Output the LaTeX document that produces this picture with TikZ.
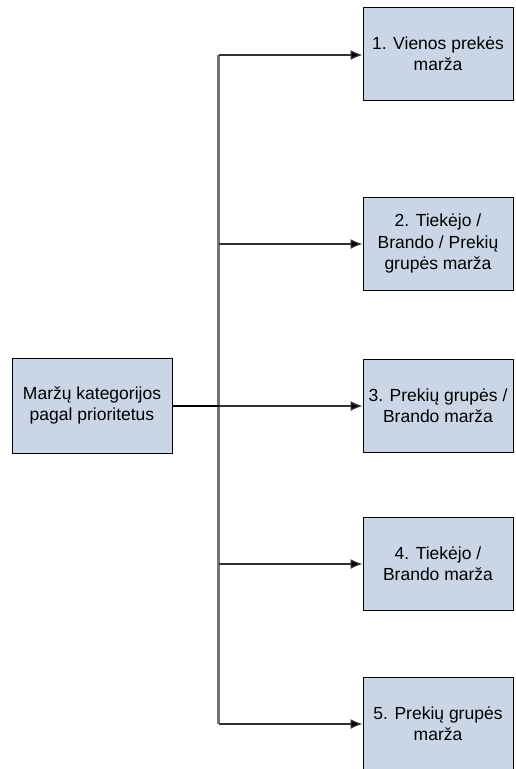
\documentclass[tikz,border=0pt]{standalone}
\usepackage{fontspec}
\setmainfont{Liberation Sans}
\usetikzlibrary{arrows.meta}
\definecolor{boxfill}{RGB}{202,214,230}
\definecolor{trunkgray}{RGB}{115,115,115}
\definecolor{branchgray}{RGB}{50,50,50}
\tikzset{
  catbox/.style={draw=black, line width=1pt, fill=boxfill, minimum width=150pt, minimum height=93pt,
    align=center, inner sep=0pt, font=\fontsize{17.5pt}{21.5pt}\selectfont},
  rootbox/.style={catbox, minimum width=160pt, minimum height=95pt},
  branch/.style={draw=branchgray, line width=1.2pt, -{Latex[length=12pt,width=10pt,fill=black]}},
  trunk/.style={draw=trunkgray, line width=2.2pt},
}
\begin{document}
\begin{tikzpicture}[x=1pt,y=-1pt]
\clip (0,0) rectangle (515,769);
\fill[white] (0,0) rectangle (515,769);
\node[rootbox] (root) at (92,405.5) {Maržų kategorijos\\pagal prioritetus};
\node[catbox] (b1) at (438,53.5) {1. Vienos prekės\\marža};
\node[catbox] (b2) at (438,243.5) {2. Tiekėjo /\\Brando / Prekių\\grupės marža};
\node[catbox] (b3) at (438,405.5) {3. Prekių grupės /\\Brando marža};
\node[catbox] (b4) at (438,563.5) {4. Tiekėjo /\\Brando marža};
\node[catbox] (b5) at (438,723.5) {5. Prekių grupės\\marža};
\coordinate (t1) at (218.5,55);
\coordinate (t2) at (218.5,244);
\coordinate (t3) at (218.5,406);
\coordinate (t4) at (218.5,564);
\coordinate (t5) at (218.5,724);
\draw[trunk] (t1) -- (t5);
\draw[branch] (t1) -- (t1 -| b1.west);
\draw[branch] (t2) -- (t2 -| b2.west);
\draw[branch] (t3) -- (t3 -| b3.west);
\draw[branch] (t4) -- (t4 -| b4.west);
\draw[branch] (t5) -- (t5 -| b5.west);
\draw[black, line width=2pt] (root.east |- t3) -- (t3);
\end{tikzpicture}
\end{document}
